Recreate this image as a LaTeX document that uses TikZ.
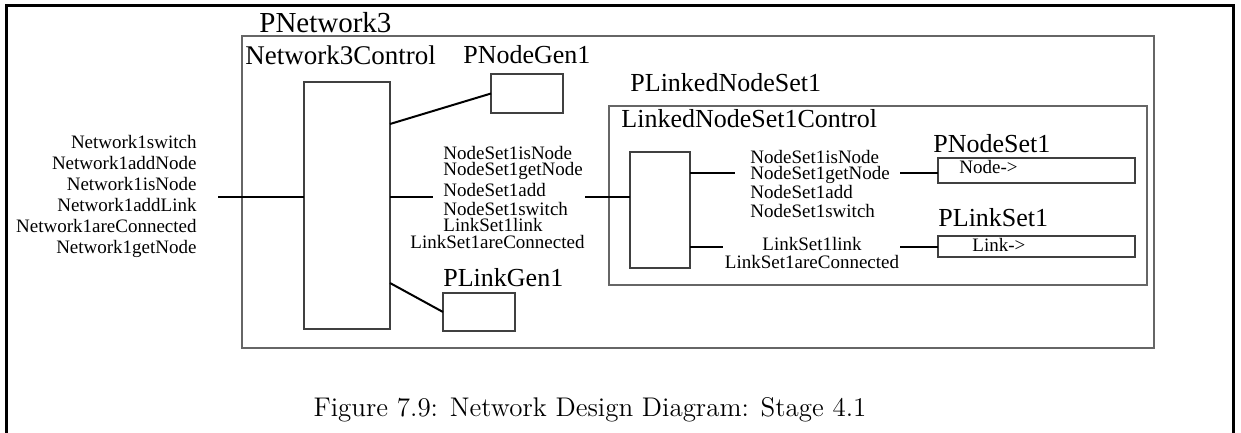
\documentclass[tikz,border=0pt]{standalone}
\usepackage{fontspec}
\newfontfamily\tnr{Liberation Serif}
\usetikzlibrary{calc}

\begin{document}
\begin{tikzpicture}[x=0.5pt,y=-0.5pt,
  box/.style={draw=black!75,line width=0.6pt,inner sep=0pt,outer sep=0pt},
  wire/.style={line width=1pt},
  title/.style={font=\tnr\fontsize{13}{13}\selectfont,anchor=base west,inner sep=0pt},
  msgs/.style={font=\tnr\fontsize{9.5}{8}\selectfont,inner sep=0pt}]
  \useasboundingbox (0,0) rectangle (1241,433);
  % page frame
  \draw[line width=1.5pt] (6.5,433) -- (6.5,6) -- (1233.5,6) -- (1233.5,433);

  % PNetwork3
  \node[box,draw=black!60,line width=1pt,minimum width=456pt,minimum height=156pt] (pnet) at (698,192) {};
  \node[title,font=\tnr\fontsize{14.5}{14.5}\selectfont] (pnetlbl) at (259,33) {PNetwork3};
  \node[title,font=\tnr\fontsize{13.5}{13.5}\selectfont] (ctrllbl) at (245,65) {Network3Control};
  \node[box,minimum width=43pt,minimum height=123.5pt] (ctrl) at (347,205.5) {};

  \node[box,minimum width=36pt,minimum height=19.5pt] (nodegen) at (527,93.5) {};
  \node[title] (nodegenlbl) at (463,64) {PNodeGen1};
  \node[box,minimum width=36pt,minimum height=19pt] (linkgen) at (479,312) {};
  \node[title] (linkgenlbl) at (443,286) {PLinkGen1};

  % PLinkedNodeSet1
  \node[box,draw=black!60,line width=0.8pt,minimum width=269pt,minimum height=89.5pt] (plns) at (878,195.5) {};
  \node[title] (plnslbl) at (630,92) {PLinkedNodeSet1};
  \node[title] (lctrllbl) at (621,127) {LinkedNodeSet1Control};
  \node[box,minimum width=30pt,minimum height=58pt] (lctrl) at (660,210) {};

  \node[box,minimum width=98.5pt,minimum height=12.5pt] (nodeset) at (1036.5,170.5) {};
  \node[title] (nodesetlbl) at (933,152) {PNodeSet1};
  \node[msgs,anchor=base west] (nodeptr) at (959,173) {Node->};
  \node[box,minimum width=98.5pt,minimum height=10.5pt] (linkset) at (1036.5,246.5) {};
  \node[title] (linksetlbl) at (938,226) {PLinkSet1};
  \node[msgs,anchor=base west] (linkptr) at (972,251) {Link->};

  % message lists
  \node[msgs,font=\tnr\fontsize{9.5}{10.5}\selectfont,align=right,anchor=north east] (netmsgs) at (197,135)
    {Network1switch\\Network1addNode\\Network1isNode\\Network1addLink\\Network1areConnected\\Network1getNode};
  \node[msgs,align=left,anchor=north west] (setmsgs) at (410,146)
    {\hspace*{16.5pt}NodeSet1isNode\\
     \hspace*{16.5pt}NodeSet1getNode\\[1pt]
     \hspace*{16.5pt}NodeSet1add\\[1.5pt]
     \hspace*{16.5pt}NodeSet1switch\\[0pt]
     \hspace*{16.5pt}LinkSet1link\\[0.5pt]
     LinkSet1areConnected};
  \node[msgs,font=\tnr\fontsize{9.5}{9.5}\selectfont,align=left,anchor=north west] (nodemsgs) at (750,150)
    {NodeSet1isNode\\[-1.5pt]NodeSet1getNode\\NodeSet1add\\NodeSet1switch};
  \node[msgs,font=\tnr\fontsize{9.5}{9}\selectfont,align=center,anchor=north] (linkmsgs) at (812,237)
    {LinkSet1link\\LinkSet1areConnected};

  % connectors
  \coordinate (netin) at (218,197);
  \coordinate (setl) at (433,197);
  \coordinate (setr) at (585,197);
  \coordinate (nodel) at (735,173);
  \coordinate (noder) at (900,173);
  \coordinate (linkl) at (723,247);
  \coordinate (linkr) at (900,247);
  \draw[wire] (netin) -- (ctrl.west |- netin);
  \draw[wire] ($(ctrl.north east)+(0,42)$) -- (nodegen.west);
  \draw[wire] ($(ctrl.south east)+(0,-46)$) -- (linkgen.west);
  \draw[wire] (ctrl.east |- setl) -- (setl);
  \draw[wire] (setr) -- (lctrl.west |- setr);
  \draw[wire] (lctrl.east |- nodel) -- (nodel);
  \draw[wire] (noder) -- (nodeset.west |- noder);
  \draw[wire] (lctrl.east |- linkl) -- (linkl);
  \draw[wire] (linkr) -- (linkset.west |- linkr);

  \node[anchor=base,inner sep=0pt] (caption) at (590,416)
    {\fontsize{13.5}{13.5}\selectfont Figure 7.9: Network Design Diagram: Stage 4.1};
\end{tikzpicture}
\end{document}
